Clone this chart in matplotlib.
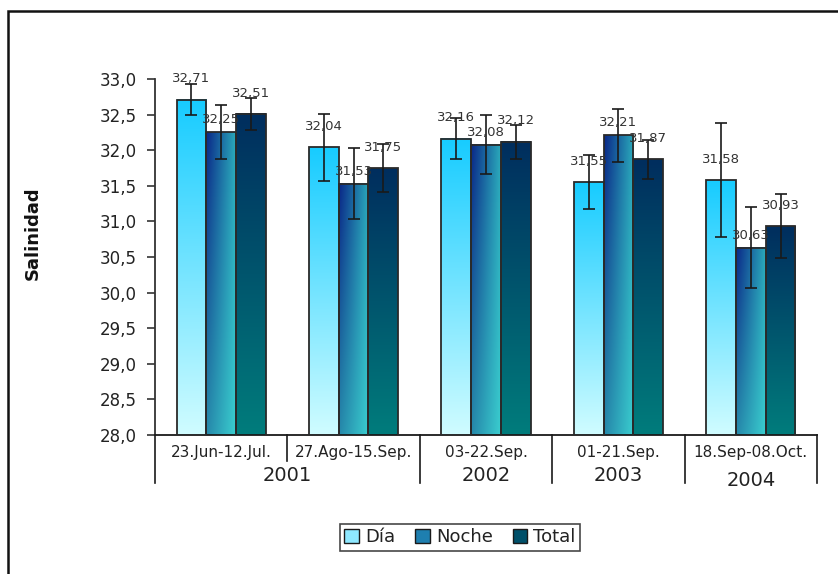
import numpy as np
import matplotlib
matplotlib.use("Agg")
import matplotlib.pyplot as plt
from matplotlib.patches import Rectangle, Patch
from matplotlib.colors import to_rgb

# ---- data ----
periods = ["23.Jun-12.Jul.", "27.Ago-15.Sep.", "03-22.Sep.", "01-21.Sep.", "18.Sep-08.Oct."]
years = ["2001", "2002", "2003", "2004"]
year_groups = [(0, 1), (2, 2), (3, 3), (4, 4)]  # first/last period index for each year
series_names = ["Día", "Noche", "Total"]
dia = [32.71, 32.04, 32.16, 31.55, 31.58]
noche = [32.25, 31.53, 32.08, 32.21, 30.63]
total = [32.51, 31.75, 32.12, 31.87, 30.93]
dia_err = [0.22, 0.47, 0.29, 0.38, 0.80]
noche_err = [0.38, 0.50, 0.42, 0.37, 0.57]
total_err = [0.22, 0.34, 0.24, 0.27, 0.45]
y_ticks = [28.0, 28.5, 29.0, 29.5, 30.0, 30.5, 31.0, 31.5, 32.0, 32.5, 33.0]

plt.rcParams['font.family'] = ['DejaVu Sans']
TXT = "#222222"

fig = plt.figure(figsize=(8.38, 5.74), dpi=100)
W, H = 838, 574
ax = fig.add_axes([155 / W, 1 - 435 / H, (817 - 155) / W, (435 - 79) / H])
ax.set_xlim(-0.5, len(periods) - 0.5)
ax.set_ylim(28.0, 33.0)


def grad_vertical(top, bottom, n=64):
    t = np.linspace(0, 1, n)[:, None]
    a, b = np.array(to_rgb(top)), np.array(to_rgb(bottom))
    img = a[None, None, :] * (1 - t[..., None]) + b[None, None, :] * t[..., None]
    return np.repeat(img, 2, axis=1)


def grad_bilinear(tl, tr, bl, br, n=64, m=32):
    ty = np.linspace(0, 1, n)[:, None, None]
    tx = np.linspace(0, 1, m)[None, :, None]
    tl, tr, bl, br = [np.array(to_rgb(c))[None, None, :] for c in (tl, tr, bl, br)]
    top = tl * (1 - tx) + tr * tx
    bot = bl * (1 - tx) + br * tx
    return top * (1 - ty) + bot * ty


grads = [
    grad_vertical("#18CCFF", "#CFFCFF"),
    grad_bilinear("#0A2888", "#2AA8BA", "#2688AA", "#3ACDCF"),
    grad_vertical("#002E5E", "#007C7C"),
]
legend_colors = ["#8EE8FF", "#1E7FB0", "#00506A"]
label_offsets_pt = [15, 9, 15]  # label distance above bar top, per series

x = np.arange(len(periods))
width = 0.225
values = [dia, noche, total]
errs = [dia_err, noche_err, total_err]
ybase = ax.get_ylim()[0]

for i, (vals, err, g) in enumerate(zip(values, errs, grads)):
    offs = (i - 1) * width
    bars = ax.bar(x + offs, vals, width, bottom=0, facecolor="none",
                  edgecolor="#2a2a2a", linewidth=1.3, zorder=3)
    for b in bars:
        x0, w, top = b.get_x(), b.get_width(), b.get_height()
        ax.imshow(g, extent=(x0, x0 + w, ybase, top), aspect="auto",
                  origin="upper", zorder=2, interpolation="bilinear")
    ax.errorbar(x + offs, vals, yerr=err, fmt="none", ecolor="#1a1a1a",
                elinewidth=1.2, capsize=4.5, capthick=1.2, zorder=4)
    for xi, v in zip(x + offs, vals):
        ax.annotate(f"{v:.2f}".replace(".", ","), (xi, v), xytext=(0, label_offsets_pt[i]),
                    textcoords="offset points", ha="center", va="center",
                    fontsize=9.5, color="#333333", zorder=5)

ax.set_xlim(-0.5, len(periods) - 0.5)
ax.set_ylim(28.0, 33.0)

# axes styling
for s in ["top", "right"]:
    ax.spines[s].set_visible(False)
ax.spines["left"].set_color("#333333")
ax.spines["left"].set_linewidth(1.3)
ax.spines["bottom"].set_color("#1a1a1a")
ax.spines["bottom"].set_linewidth(1.3)
ax.set_yticks(y_ticks)
ax.set_yticklabels([f"{t:.1f}".replace(".", ",") for t in y_ticks])
ax.tick_params(axis="y", direction="out", length=6, width=1.2, color="#333333",
               labelsize=12, labelcolor=TXT, pad=7)
ax.set_xticks([])

# category labels and separators
xt = ax.get_xaxis_transform()
for xi, lab in zip(x, periods):
    ax.text(xi, -0.048, lab, transform=xt, ha="center", va="center",
            fontsize=11, color=TXT)
bounds = np.arange(len(periods) + 1) - 0.5
year_starts = {g[0] for g in year_groups}
for k, bx in enumerate(bounds):
    full = (k == 0) or (k == len(periods)) or (k in year_starts)
    ax.plot([bx, bx], [0, -0.135 if full else -0.072], transform=xt,
            color="#1a1a1a", lw=1.2, clip_on=False)
for yr, (a, b) in zip(years, year_groups):
    ypos = -0.129 if yr == "2004" else -0.115
    ax.text((a + b) / 2, ypos, yr, transform=xt, ha="center", va="center",
            fontsize=14, color=TXT)

# y label
fig.text(33 / W, 1 - 233 / H, "Salinidad", rotation=90, ha="center", va="center",
         fontsize=13, fontweight="bold", color="#111111")

# legend
handles = [Patch(facecolor=c, edgecolor="#1a1a1a", linewidth=1.0) for c in legend_colors]
leg = fig.legend(handles, series_names, loc="center", bbox_to_anchor=(460 / W, 1 - 537.5 / H),
                 ncol=3, fontsize=13, frameon=True, fancybox=False, edgecolor="#1a1a1a",
                 handlelength=0.8, handleheight=0.8, handletextpad=0.35, columnspacing=1.1,
                 borderpad=0.25)
leg.get_frame().set_linewidth(1.2)
for t in leg.get_texts():
    t.set_color(TXT)

# outer border
fig.patches.append(Rectangle((8 / W, -0.05), 1.2, 1 - 11 / H + 0.05, transform=fig.transFigure,
                             fill=False, edgecolor="#111111", linewidth=1.8))

fig.savefig("out.png", dpi=100)
